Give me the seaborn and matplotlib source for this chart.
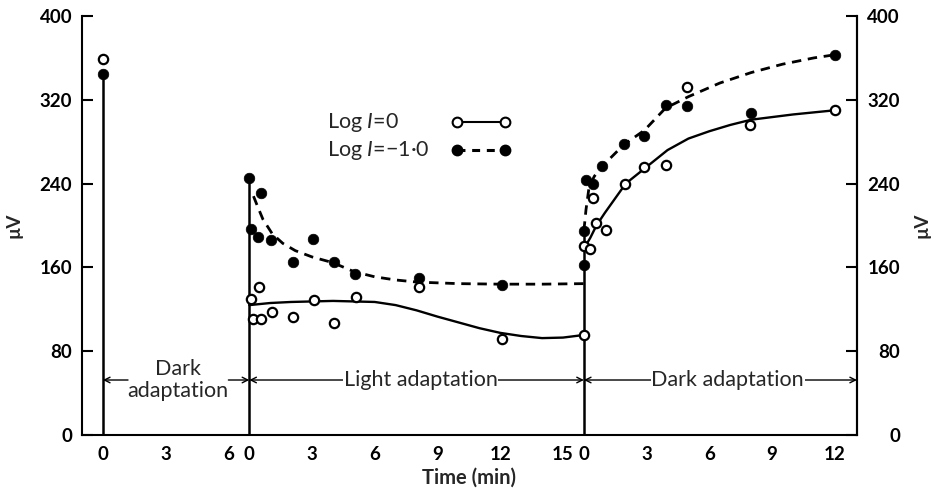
import numpy as np
import pandas as pd
import matplotlib
matplotlib.use('Agg')
import matplotlib.pyplot as plt
import seaborn as sns

# ---------------- data ----------------
# offsets of the three periods on the common time axis (min)
OFF_DARK1, OFF_LIGHT, OFF_DARK2 = 0, 7, 23

# first dark adaptation (t = 0)
dark1_t = [0]
dark1_open_v = [359]
dark1_filled_v = [345]

# light adaptation
light_open_t = [0.08, 0.45, 0.19, 0.56, 1.08, 2.07, 3.1, 4.03, 5.1, 8.1, 12.08, 16]
light_open_v = [129.5, 141.6, 110.4, 110.4, 117, 113, 128.9, 106.6, 132, 141, 91.3, 95.5]
light_filled_t = [0, 0.56, 0.1, 0.4, 1.04, 3.03, 2.1, 4.06, 5.07, 8.1, 12.08]
light_filled_v = [245, 230.7, 197, 189, 186.5, 187, 165.5, 165, 154, 149.6, 143]

# second dark adaptation
dark2_open_t = [0, 0.27, 0.6, 1.08, 0.43, 1.96, 2.89, 3.91, 4.94, 7.94, 12.03]
dark2_open_v = [180, 178, 202.7, 195.7, 226, 240, 255.5, 257.8, 332, 296, 310]
dark2_filled_t = [0, 0, 0.1, 0.45, 0.85, 1.93, 2.89, 3.91, 4.94, 7.99, 12.03]
dark2_filled_v = [162, 195, 243, 240, 257, 277.5, 285.7, 315, 314.4, 307, 363]

# fitted curves
light_solid_t = [0, 1, 2, 3, 4, 5, 6, 7, 8, 9, 10, 11, 12, 13, 14, 15, 16]
light_solid_v = [124, 126, 127, 127.5, 128, 127.5, 127, 124, 119, 113, 107.5, 102, 97.5, 94.5, 92.5, 93, 95.5]
light_dash_t = [0.2, 0.4, 0.65, 1.1, 1.6, 2.2, 3, 4, 5, 6, 7, 8, 10, 12, 14, 16]
light_dash_v = [228, 218, 206, 192, 183, 176, 170, 164.5, 156, 151, 148, 146, 144.5, 144, 144, 144.5]
dark2_solid_t = [0, 0.3, 0.6, 1.0, 1.5, 2, 3, 4, 5, 6, 7, 8, 9, 10, 11, 12]
dark2_solid_v = [178, 188, 200, 212, 226, 240, 256, 272, 283, 290, 296, 301, 303.5, 306, 308, 310]
dark2_dash_t = [0, 0.1, 0.25, 0.5, 0.85, 1.4, 1.9, 2.9, 3.9, 5, 6.5, 8, 9.5, 11, 12]
dark2_dash_v = [195, 215, 237, 247, 256, 267, 277, 291, 312, 323, 336, 346, 354, 360, 363]

xtick_pos = [0, 3, 6, 7, 10, 13, 16, 19, 22, 23, 26, 29, 32, 35]
xtick_labels = ['0', '3', '6', '0', '3', '6', '9', '12', '15', '0', '3', '6', '9', '12']
ytick_pos = [0, 80, 160, 240, 320, 400]

# ---------------- style ----------------
sns.set_theme(style='white')
plt.rcParams['font.family'] = ['Lato', 'DejaVu Sans']
plt.rcParams['mathtext.fontset'] = 'custom'
plt.rcParams['mathtext.it'] = 'Lato:italic'
plt.rcParams['mathtext.rm'] = 'Lato'

FS_TICK = 13.5
FS_TXT = 15.5
fig = plt.figure(figsize=(9.36, 4.95), dpi=100)
ax = fig.add_axes([82/936, 1-435/495, (857-82)/936, (435-16)/495])

def g(ts, off):
    return [t + off for t in ts]

lw_curve = 1.7
dash = (0, (3.4, 2.4))
# curves
sns.lineplot(x=g(light_solid_t, OFF_LIGHT), y=light_solid_v, ax=ax, color='black',
             lw=lw_curve, sort=False, estimator=None)
sns.lineplot(x=g(dark2_solid_t, OFF_DARK2), y=dark2_solid_v, ax=ax, color='black',
             lw=lw_curve, sort=False, estimator=None)
sns.lineplot(x=g(light_dash_t, OFF_LIGHT), y=light_dash_v, ax=ax, color='black',
             lw=2.0, linestyle=dash, sort=False, estimator=None)
sns.lineplot(x=g(dark2_dash_t, OFF_DARK2), y=dark2_dash_v, ax=ax, color='black',
             lw=2.0, linestyle=dash, sort=False, estimator=None)

# vertical lines at the start of each period
ax.vlines([OFF_DARK1, OFF_LIGHT, OFF_DARK2], 0,
          [max(dark1_filled_v), light_filled_v[0], max(dark2_filled_v[:2])],
          color='black', lw=1.8, zorder=2)

# points
open_x = g(dark1_t, OFF_DARK1) + g(light_open_t, OFF_LIGHT) + g(dark2_open_t, OFF_DARK2)
open_y = dark1_open_v + light_open_v + dark2_open_v
filled_x = g(dark1_t, OFF_DARK1) + g(light_filled_t, OFF_LIGHT) + g(dark2_filled_t, OFF_DARK2)
filled_y = dark1_filled_v + light_filled_v + dark2_filled_v
sns.scatterplot(x=filled_x, y=filled_y, ax=ax, s=58, color='black', edgecolor='black',
                linewidth=0.5, zorder=4)
sns.scatterplot(x=open_x, y=open_y, ax=ax, s=45, facecolor='white', edgecolor='black',
                linewidth=1.6, zorder=5)

# axes
ax.set_xlim(-1.0, 36.06)
ax.set_ylim(0, 400)
ax.set_xticks(xtick_pos)
ax.set_xticklabels(xtick_labels)
ax.set_yticks(ytick_pos)
ax.set_yticklabels([str(v) for v in ytick_pos])
for s in ax.spines.values():
    s.set_linewidth(1.5)
    s.set_color('black')
ax.spines['top'].set_visible(False)
ax.tick_params(axis='both', direction='in', length=8, width=1.5, color='black',
               labelsize=FS_TICK, labelcolor='black', pad=7)
ax.tick_params(axis='x', pad=8)
for lab in ax.get_xticklabels() + ax.get_yticklabels():
    lab.set_fontweight('bold')
ax.set_xlabel('Time (min)', fontsize=14.5, fontweight='bold', labelpad=3)
ax.set_ylabel('µV', fontsize=FS_TICK, fontweight='bold', labelpad=12)

ax2 = ax.twinx()
ax2.set_ylim(0, 400)
ax2.set_yticks(ytick_pos)
ax2.set_yticklabels([str(v) for v in ytick_pos])
ax2.tick_params(axis='y', direction='in', length=8, width=1.5, color='black',
                labelsize=FS_TICK, labelcolor='black', pad=31)
for lab in ax2.get_yticklabels():
    lab.set_fontweight('bold')
    lab.set_ha('right')
for s in ax2.spines.values():
    s.set_visible(False)
ax2.spines['right'].set_visible(True)
ax2.spines['right'].set_linewidth(1.5)
ax2.spines['right'].set_color('black')
ax2.set_ylabel('µV', fontsize=FS_TICK, fontweight='bold', rotation=90, labelpad=10)
ax2.grid(False)
ax.grid(False)

# period annotations
ya = 52.5
arr = dict(arrowstyle='->', lw=1.0, color='black', shrinkA=0, shrinkB=0,
           mutation_scale=10)
ax.annotate('', xy=(OFF_DARK1, ya), xytext=(1.2, ya), arrowprops=arr)
ax.annotate('', xy=(OFF_LIGHT, ya), xytext=(6.0, ya), arrowprops=arr)
ax.text(3.6, ya, 'Dark\nadaptation', ha='center', va='center', fontsize=FS_TXT,
        linespacing=1.1)
arr2 = dict(arrowstyle='<->', lw=1.0, color='black', shrinkA=0, shrinkB=0,
            mutation_scale=10)
ax.annotate('', xy=(OFF_LIGHT, ya), xytext=(OFF_DARK2, ya), arrowprops=arr2)
ax.text(15.2, ya, 'Light adaptation', ha='center', va='center', fontsize=FS_TXT,
        bbox=dict(facecolor='white', edgecolor='none', pad=0.5))
ax.annotate('', xy=(OFF_DARK2, ya), xytext=(36.06, ya), arrowprops=arr2,
            annotation_clip=False)
ax.text(29.87, ya, 'Dark adaptation', ha='center', va='center', fontsize=FS_TXT,
        bbox=dict(facecolor='white', edgecolor='none', pad=0.5))

# legend (drawn in axes coordinates)
rows = [('Log $I$=0', 0.747, 'white', '-', 1.5),
        ('Log $I$=−1·0', 0.680, 'black', (0, (2.6, 2.2)), 2.2)]
for label, yy, fc, ls, lw in rows:
    ax.text(0.316, yy, label, transform=ax.transAxes, ha='left', va='center',
            fontsize=FS_TXT)
    ax.plot([0.484, 0.546], [yy, yy], transform=ax.transAxes, color='black',
            ls=ls, lw=lw, marker='o', markersize=7, markerfacecolor=fc,
            markeredgecolor='black', markeredgewidth=1.5)

fig.savefig('out.png', dpi=100)
